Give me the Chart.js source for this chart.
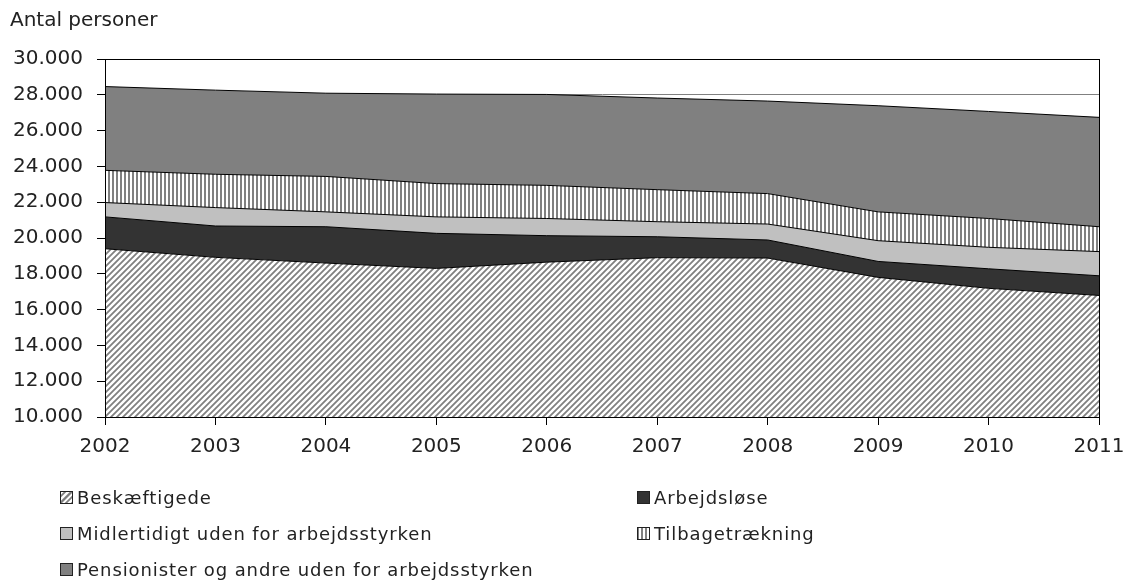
<!DOCTYPE html>
<html>
<head>
<meta charset="utf-8">
<script src="https://cdn.jsdelivr.net/npm/chart.js@4.4.1/dist/chart.umd.min.js"></script>
<style>
    html, body { margin: 0; padding: 0; background: #fff; }
    #wrap { position: relative; width: 1126px; height: 580px; }
    #grafico { position: absolute; left: 0; top: 0; }
    #legenda {
        position: absolute; left: 60px; top: 479px;
        display: grid; grid-template-columns: 577px auto; grid-auto-rows: 36px;
        font-family: "DejaVu Sans", Verdana, sans-serif; font-size: 18px; letter-spacing: 0.9px; color: #222;
    }
    #legenda .item { display: flex; align-items: center; }
    #legenda canvas { margin-right: 4px; }
</style>
</head>
<body>
<div id="wrap">
    <canvas id="grafico" width="1126" height="480"></canvas>
    <div id="legenda"></div>
</div>
<script>
const years = ['2002', '2003', '2004', '2005', '2006', '2007', '2008', '2009', '2010', '2011'];

const seriesNames = [
    'Beskæftigede',
    'Arbejdsløse',
    'Midlertidigt uden for arbejdsstyrken',
    'Tilbagetrækning',
    'Pensionister og andre uden for arbejdsstyrken'
];

// antal personer pr. gruppe (stables)
const beskaeftigede = [19400, 18920, 18600, 18300, 18650, 18900, 18880, 17800, 17190, 16790];
const arbejdsloese  = [1780, 1750, 2030, 1960, 1480, 1170, 1010, 890, 1090, 1100];
const midlertidigt  = [800, 1030, 830, 920, 960, 840, 890, 1160, 1200, 1350];
const tilbagetraek  = [1800, 1860, 1980, 1860, 1850, 1790, 1700, 1610, 1610, 1390];
const pensionister  = [4680, 4700, 4650, 5000, 5080, 5120, 5170, 5930, 5980, 6110];

const yTicksMin = 10000;
const yTicksMax = 30000;
const yStep = 2000;

function skraaMoenster() {
    const c = document.createElement('canvas');
    c.width = 6; c.height = 6;
    const g = c.getContext('2d');
    g.fillStyle = '#fff';
    g.fillRect(0, 0, 6, 6);
    g.strokeStyle = '#808080';
    g.lineWidth = 1.8;
    g.beginPath();
    g.moveTo(-1, 7); g.lineTo(7, -1);
    g.moveTo(-1, 1); g.lineTo(1, -1);
    g.moveTo(5, 7); g.lineTo(7, 5);
    g.stroke();
    return g.createPattern(c, 'repeat');
}

function lodretMoenster() {
    const c = document.createElement('canvas');
    c.width = 4; c.height = 4;
    const g = c.getContext('2d');
    g.fillStyle = '#fff';
    g.fillRect(0, 0, 4, 4);
    g.fillStyle = '#808080';
    g.fillRect(0, 0, 2, 4);
    return g.createPattern(c, 'repeat');
}

const fyld = [skraaMoenster(), '#333333', '#c0c0c0', lodretMoenster(), '#808080'];
const vaerdier = [beskaeftigede, arbejdsloese, midlertidigt, tilbagetraek, pensionister];

function formatTal(v) {
    return String(v).replace(/\B(?=(\d{3})+(?!\d))/g, '.');
}

const rammePlugin = {
    id: 'ramme',
    afterDatasetsDraw(chart) {
        const a = chart.chartArea;
        const ctx = chart.ctx;
        ctx.save();
        ctx.strokeStyle = '#000';
        ctx.lineWidth = 1;
        ctx.strokeRect(Math.round(a.left) + 0.5, Math.round(a.top) + 0.5,
            Math.round(a.right - a.left), Math.round(a.bottom - a.top));
        ctx.restore();
    }
};

const ctx = document.getElementById('grafico');

const grafico = new Chart(ctx, {
    type: 'line',
    data: {
        labels: years,
        datasets: seriesNames.map(function(navn, i) {
            return {
                label: navn,
                data: vaerdier[i],
                backgroundColor: fyld[i],
                borderColor: '#000',
                borderWidth: 1,
                pointRadius: 0,
                tension: 0,
                fill: i === 0 ? 'start' : '-1'
            };
        })
    },
    options: {
        responsive: false,
        animation: false,
        layout: { padding: { left: 10, right: 0, top: 0, bottom: 11 } },
        plugins: {
            legend: { display: false },
            tooltip: { enabled: false },
            title: {
                display: true,
                text: 'Antal personer',
                align: 'start',
                color: '#222',
                font: { family: 'DejaVu Sans', size: 20, weight: 'normal' },
                padding: { top: 9, bottom: 26 }
            }
        },
        scales: {
            x: {
                offset: false,
                afterFit: function(scale) { scale.paddingRight = 27; scale.paddingLeft = 0; },
                grid: { display: true, drawOnChartArea: false, drawTicks: true, tickLength: 8, tickColor: '#000' },
                border: { color: '#000', width: 1 },
                ticks: {
                    color: '#222', padding: 10, maxRotation: 0,
                    font: { family: 'DejaVu Sans', size: 20 }
                }
            },
            y: {
                stacked: true,
                min: yTicksMin,
                max: yTicksMax,
                afterFit: function(scale) { scale.width = 95; },
                grid: { color: '#808080', lineWidth: 1, tickLength: 8, tickColor: '#000' },
                border: { color: '#000', width: 1 },
                ticks: {
                    stepSize: yStep,
                    color: '#222', padding: 14,
                    font: { family: 'DejaVu Sans', size: 20 },
                    callback: function(v) { return formatTal(v); }
                }
            }
        }
    },
    plugins: [rammePlugin]
});

// legende i to kolonner
const legenda = document.getElementById('legenda');
seriesNames.forEach(function(navn, i) {
    const item = document.createElement('div');
    item.className = 'item';
    const boks = document.createElement('canvas');
    boks.width = 13; boks.height = 13;
    const g = boks.getContext('2d');
    g.fillStyle = fyld[i];
    g.fillRect(1, 1, 11, 11);
    if (i === 0) {
        g.strokeStyle = '#7f7f7f';
        g.lineWidth = 1.5;
        g.beginPath(); g.moveTo(1, 12); g.lineTo(12, 1); g.stroke();
    }
    g.strokeStyle = '#222';
    g.lineWidth = 1;
    g.strokeRect(0.5, 0.5, 12, 12);
    const tekst = document.createElement('span');
    tekst.textContent = navn;
    item.appendChild(boks);
    item.appendChild(tekst);
    legenda.appendChild(item);
});
</script>
</body>
</html>
